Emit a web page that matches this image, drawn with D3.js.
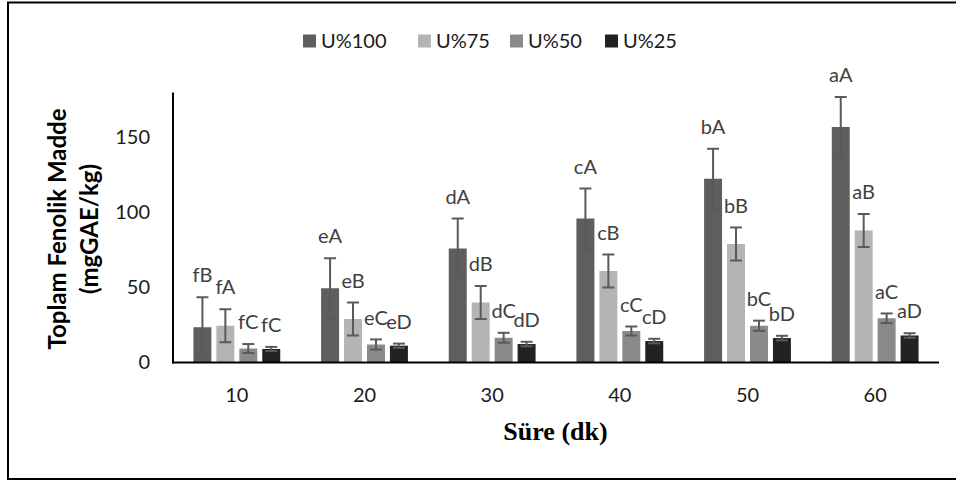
<!DOCTYPE html>
<html>
<head>
<meta charset="utf-8">
<script src="https://cdn.jsdelivr.net/npm/d3@7/dist/d3.min.js"></script>
<style>
  html, body { margin: 0; padding: 0; background: #fff; }
  svg { display: block; }
</style>
</head>
<body>
<svg id="chart" width="956" height="481"></svg>
<script>
// ---- data ----
const categories = ["10", "20", "30", "40", "50", "60"];
const seriesNames = ["U%100", "U%75", "U%50", "U%25"];
const u100 = [23.5, 49.5, 76, 96, 122.5, 157];
const u75  = [24.5, 29, 40, 61, 79, 88];
const u50  = [9.3, 12, 16.5, 21, 24.5, 29.5];
const u25  = [9, 11.2, 12.3, 14.3, 16.3, 18];
const err100 = [20, 20, 20, 20, 20, 20];
const err75  = [11, 11, 11, 11, 11, 11];
const err50  = [3, 3.4, 3.3, 3, 3.4, 3.2];
const err25  = [1.4, 1.4, 1.5, 1.5, 1.5, 1.5];
const lab100 = ["fB", "eA", "dA", "cA", "bA", "aA"];
const lab75  = ["fA", "eB", "dB", "cB", "bB", "aB"];
const lab50  = ["fC", "eC", "dC", "cC", "bC", "aC"];
const lab25  = ["fC", "eD", "dD", "cD", "bD", "aD"];
const yTicks = [0, 50, 100, 150];
const yTitle = ["Toplam Fenolik Madde", "(mgGAE/kg)"];
const xTitle = "Süre (dk)";

(function () {
const values = [u100, u75, u50, u25];
const errors = [err100, err75, err50, err25];
const labels = [lab100, lab75, lab50, lab25];
const colors = ["#5e5e5e", "#b4b4b4", "#8a8a8a", "#222222"];

const FONT = "Lato, 'Open Sans', sans-serif";
const svg = d3.select("#chart");

// outer frame
svg.append("rect")
  .attr("x", 8).attr("y", 2.5).attr("width", 960).attr("height", 476.5)
  .attr("fill", "none").attr("stroke", "#000").attr("stroke-width", 2);

const pl = 173, pr = 939, pt = 92.5, pb = 362.5;

const x0 = d3.scaleBand().domain(categories).range([pl, pr])
  .paddingInner(0.32).paddingOuter(0.16);
const x1 = d3.scaleBand().domain(seriesNames).range([0, x0.bandwidth()])
  .paddingInner(0.217).paddingOuter(0);
const y = d3.scaleLinear().domain([0, 180]).range([pb, pt]);

const recs = [];
seriesNames.forEach((s, si) => {
  categories.forEach((c, ci) => {
    recs.push({ s, si, c, v: values[si][ci], e: errors[si][ci], lab: labels[si][ci] });
  });
});

// bars
svg.append("g").selectAll("rect").data(recs).join("rect")
  .attr("x", d => x0(d.c) + x1(d.s))
  .attr("width", x1.bandwidth())
  .attr("y", d => y(d.v))
  .attr("height", d => y(0) - y(d.v))
  .attr("fill", d => colors[d.si]);

// error bars
const eg = svg.append("g").attr("stroke", "#5a5a5a").attr("stroke-width", 2).attr("fill", "none");
const cx = d => x0(d.c) + x1(d.s) + x1.bandwidth() / 2;
eg.selectAll("line.v").data(recs).join("line").attr("class", "v")
  .attr("x1", cx).attr("x2", cx)
  .attr("y1", d => y(d.v + d.e)).attr("y2", d => y(Math.max(0, d.v - d.e)));
eg.selectAll("line.t").data(recs).join("line").attr("class", "t")
  .attr("x1", d => cx(d) - 6).attr("x2", d => cx(d) + 6)
  .attr("y1", d => y(d.v + d.e)).attr("y2", d => y(d.v + d.e));
eg.selectAll("line.b").data(recs).join("line").attr("class", "b")
  .attr("x1", d => cx(d) - 6).attr("x2", d => cx(d) + 6)
  .attr("y1", d => y(Math.max(0, d.v - d.e))).attr("y2", d => y(Math.max(0, d.v - d.e)));

// letter labels
svg.append("g").selectAll("text").data(recs).join("text")
  .attr("x", cx)
  .attr("y", d => y(d.v + d.e) - 22)
  .attr("dy", "0.36em")
  .attr("text-anchor", "middle")
  .attr("font-family", FONT).attr("font-size", 20)
  .attr("fill", "#404040")
  .text(d => d.lab);

// axes
const yAxis = d3.axisLeft(y).tickValues(yTicks).tickSize(0).tickPadding(23);
const gy = svg.append("g").attr("transform", `translate(${pl},0)`).call(yAxis);
gy.select(".domain").remove();
gy.selectAll("text").attr("font-family", FONT).attr("font-size", 20).attr("fill", "#1a1a1a");

const xAxis = d3.axisBottom(x0).tickSize(0).tickPadding(25);
const gx = svg.append("g").attr("transform", `translate(0,${pb})`).call(xAxis);
gx.select(".domain").remove();
gx.selectAll("text").attr("font-family", FONT).attr("font-size", 20).attr("fill", "#1a1a1a");

svg.append("line").attr("x1", pl).attr("x2", pl).attr("y1", pt).attr("y2", pb + 1)
  .attr("stroke", "#000").attr("stroke-width", 2);
svg.append("line").attr("x1", pl - 1).attr("x2", pr).attr("y1", pb).attr("y2", pb)
  .attr("stroke", "#000").attr("stroke-width", 2);

// axis titles
const yt = svg.append("text")
  .attr("transform", "translate(58,229) rotate(-90)")
  .attr("text-anchor", "middle")
  .attr("font-family", FONT).attr("font-weight", "bold").attr("font-size", 24)
  .attr("fill", "#000");
yt.append("tspan").attr("x", 0).attr("dy", "0.35em").text(yTitle[0]);
yt.append("tspan").attr("x", 0).attr("dy", 32).text(yTitle[1]);

svg.append("text")
  .attr("x", 555.5).attr("y", 440)
  .attr("text-anchor", "middle")
  .attr("font-family", "'Liberation Serif', 'Times New Roman', serif")
  .attr("font-weight", "bold").attr("font-size", 26)
  .attr("fill", "#000")
  .text(xTitle);

// legend
const legX = [303, 418, 510, 605];
const lg = svg.append("g");
seriesNames.forEach((s, i) => {
  lg.append("rect").attr("x", legX[i]).attr("y", 34.5).attr("width", 13).attr("height", 13)
    .attr("fill", colors[i]);
  lg.append("text").attr("x", legX[i] + 18).attr("y", 41).attr("dy", "0.36em")
    .attr("font-family", FONT).attr("font-size", 20).attr("fill", "#1a1a1a")
    .text(s);
});
})();
</script>
</body>
</html>
